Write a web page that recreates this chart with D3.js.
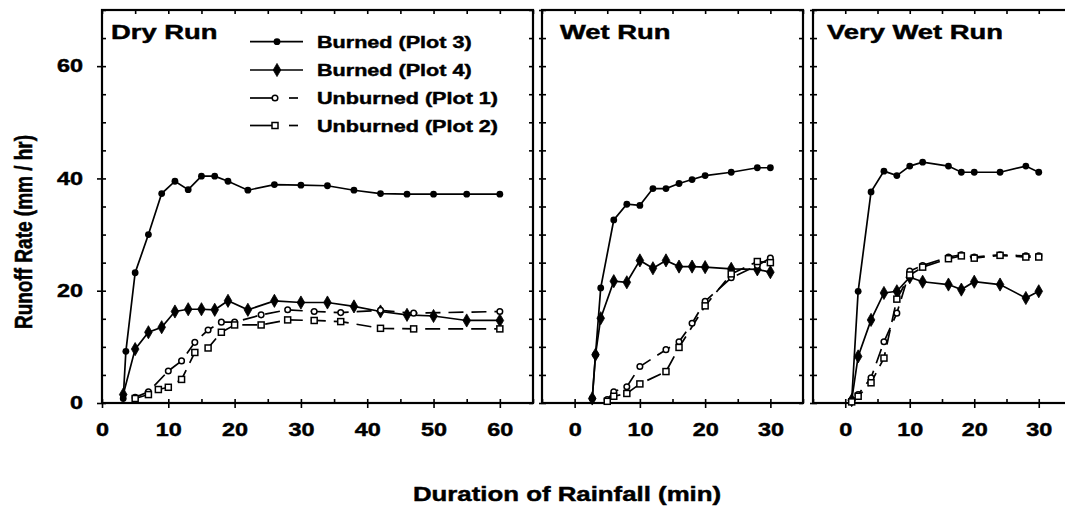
<!DOCTYPE html>
<html>
<head>
<meta charset="utf-8">
<script src="https://cdn.jsdelivr.net/npm/d3@7"></script>
<style>
  body { margin: 0; background: #fff; }
  text { font-family: "Liberation Sans", Arial, sans-serif; font-weight: bold; fill: #000; stroke: #000; stroke-width: 0.45px; }
</style>
</head>
<body>
<div id="chart"></div>
<script>
// data: [minutes, runoff mm/hr]
var dryBurned3 = [[3.2,0.8],[3.6,9.2],[5,23.2],[7,30.0],[9,37.3],[11,39.5],[13,38.0],[15,40.4],[17,40.4],[19,39.5],[22,37.9],[26,38.9],[30,38.8],[34,38.7],[38,37.9],[42,37.3],[46,37.2],[50,37.2],[55,37.2],[60,37.2]];
var dryBurned4 = [[3.2,1.5],[5,9.6],[7,12.6],[9,13.5],[11,16.3],[13,16.7],[15,16.7],[17,16.6],[19,18.2],[22,16.6],[26,18.2],[30,17.9],[34,17.9],[38,17.2],[42,16.3],[46,15.7],[50,15.5],[55,14.7],[60,14.7]];
var dryUnburned1 = [[5,1.0],[7,2.0],[10,5.7],[12,7.5],[14,10.8],[16,13.0],[18,14.4],[20,14.4],[24,15.7],[28,16.6],[32,16.3],[36,16.1],[42,16.5],[47,16.0],[60,16.3]];
var dryUnburned2 = [[5,0.8],[7,1.5],[8.5,2.4],[10,2.8],[12,4.2],[14,9.0],[16,9.8],[18,12.6],[20,13.9],[24,13.9],[28,14.8],[32,14.7],[36,14.5],[42,13.3],[47,13.2],[60,13.2]];

var wetBurned3 = [[2.7,0.8],[3.2,8.6],[4,20.5],[6,32.6],[8,35.4],[10,35.2],[12,38.2],[14,38.2],[16,39.1],[18,39.8],[20,40.5],[24,41.1],[28,41.9],[30,41.9]];
var wetBurned4 = [[2.7,0.8],[3.2,8.6],[4,15.1],[6,21.7],[8,21.5],[10,25.4],[12,24.0],[14,25.4],[16,24.3],[18,24.3],[20,24.2],[24,23.9],[28,23.8],[30,23.3]];
var wetUnburned1 = [[5,0.6],[6,2.0],[8,2.9],[10,6.5],[14,9.5],[16,10.9],[18,14.2],[20,18.1],[24,22.3],[28,24.5],[30,25.8]];
var wetUnburned2 = [[5,0.3],[6,1.2],[8,1.7],[10,3.4],[14,5.6],[16,9.9],[20,17.3],[24,23.0],[28,25.2],[30,25.0]];

var vwetBurned3 = [[1,0.5],[2,19.9],[4,37.6],[6,41.3],[8,40.5],[10,42.2],[12,42.9],[16,42.2],[18,41.1],[20,41.1],[24,41.1],[28,42.2],[30,41.1]];
var vwetBurned4 = [[1,0.5],[2,8.3],[4,14.8],[6,19.6],[8,19.9],[10,22.4],[12,21.6],[16,21.1],[18,20.2],[20,21.6],[24,21.1],[28,18.7],[30,19.9]];
var vwetUnburned1 = [[1,0.3],[2,1.5],[4,4.5],[6,10.9],[8,16.0],[10,23.5],[12,24.5],[16,26.0],[18,26.4],[20,26.0],[24,26.4],[28,26.2],[30,26.2]];
var vwetUnburned2 = [[1,0.2],[2,1.2],[4,3.6],[6,8.0],[8,18.5],[10,22.8],[12,24.2],[16,25.7],[18,26.2],[20,25.8],[24,26.3],[28,26.0],[30,26.0]];

var seriesNames = ['Burned (Plot 3)', 'Burned (Plot 4)', 'Unburned (Plot 1)', 'Unburned (Plot 2)'];
var panelTitles = ['Dry Run', 'Wet Run', 'Very Wet Run'];
var dryTicks = [0, 10, 20, 30, 40, 50, 60];
var wetTicks = [0, 10, 20, 30];
var yTicks = [0, 20, 40, 60];

var W = 1065, H = 508;
var yTop = 10, yBot = 403;
var SX = 1.3; // the scanned figure is stretched sideways

var svg = d3.select('#chart').append('svg')
    .attr('width', W)
    .attr('height', H);

var y = d3.scaleLinear().domain([0, 70]).range([yBot, yTop]);

var panels = [
    {title: panelTitles[0], left: 102, right: 533, dom: [0, 65], ticks: dryTicks, tx: 111,
     data: [dryBurned3, dryBurned4, dryUnburned1, dryUnburned2]},
    {title: panelTitles[1], left: 542, right: 803, dom: [-5, 35], ticks: wetTicks, tx: 560,
     data: [wetBurned3, wetBurned4, wetUnburned1, wetUnburned2]},
    {title: panelTitles[2], left: 813, right: 1071, dom: [-5, 35], ticks: wetTicks, tx: 827,
     data: [vwetBurned3, vwetBurned4, vwetUnburned1, vwetUnburned2]}
];

function stretch(sel, sx) {
    sel.each(function() {
        var t = d3.select(this);
        var x = +t.attr('x') || 0, yy = +t.attr('y') || 0;
        t.attr('x', 0).attr('y', 0)
         .attr('transform', 'translate(' + x + ',' + yy + ') scale(' + sx + ',1)');
    });
}

function styleAxis(g) {
    g.select('.domain').remove();
    g.selectAll('line').attr('stroke', '#000').attr('stroke-width', 1.6);
    g.attr('font-family', null).attr('font-size', 18);
}

// marker per series
function drawMarker(g, kind, px, py) {
    if (kind == 0) {
        g.append('circle').attr('cx', px).attr('cy', py).attr('r', 3.4).attr('fill', '#000');
    } else if (kind == 1) {
        g.append('path').attr('d', d3.symbol(d3.symbolDiamond, 50)())
            .attr('transform', 'translate(' + px + ',' + py + ')').attr('fill', '#000')
            .attr('stroke', '#000').attr('stroke-width', 0.8);
    } else if (kind == 2) {
        g.append('circle').attr('cx', px).attr('cy', py).attr('r', 2.8)
            .attr('fill', '#fff').attr('stroke', '#000').attr('stroke-width', 1.5);
    } else {
        g.append('rect').attr('x', px - 3).attr('y', py - 3).attr('width', 6).attr('height', 6)
            .attr('fill', '#fff').attr('stroke', '#000').attr('stroke-width', 1.5);
    }
}

var every5 = d3.range(0, 71, 5);

panels.forEach(function(p, pi) {
    var x = d3.scaleLinear().domain(p.dom).range([p.left, p.right]);
    var g = svg.append('g');
    var xMinor = d3.range(Math.ceil(p.dom[0] / 5) * 5, p.dom[1] + 0.1, 5);

    // bottom: outward ticks with labels, inward ticks every 5 min
    var xb = g.append('g').attr('transform', 'translate(0,' + yBot + ')')
        .call(d3.axisBottom(x).tickValues(p.ticks).tickSize(5).tickPadding(15).tickSizeOuter(0));
    styleAxis(xb);
    stretch(xb.selectAll('text').attr('dy', '0.71em'), SX);
    var xb2 = g.append('g').attr('transform', 'translate(0,' + yBot + ')')
        .call(d3.axisBottom(x).tickValues(xMinor).tickSize(-4).tickFormat('').tickSizeOuter(0));
    styleAxis(xb2);
    var xt = g.append('g').attr('transform', 'translate(0,' + yTop + ')')
        .call(d3.axisTop(x).tickValues(xMinor).tickSize(-4).tickFormat('').tickSizeOuter(0));
    styleAxis(xt);

    // left and right borders
    var yl = g.append('g').attr('transform', 'translate(' + p.left + ',0)')
        .call(d3.axisLeft(y).tickValues(every5).tickSize(-4).tickFormat('').tickSizeOuter(0));
    styleAxis(yl);
    var yr = g.append('g').attr('transform', 'translate(' + p.right + ',0)')
        .call(d3.axisRight(y).tickValues(every5).tickSize(-4).tickFormat('').tickSizeOuter(0));
    styleAxis(yr);
    if (pi == 0) {
        var ylab = g.append('g').attr('transform', 'translate(' + p.left + ',0)')
            .call(d3.axisLeft(y).tickValues(yTicks).tickSize(5).tickPadding(9.6).tickSizeOuter(0));
        styleAxis(ylab);
        ylab.selectAll('text').attr('transform', 'scale(' + SX + ',1)');
    } else {
        var yo = g.append('g').attr('transform', 'translate(' + p.left + ',0)')
            .call(d3.axisLeft(y).tickValues(every5).tickSize(3).tickFormat('').tickSizeOuter(0));
        styleAxis(yo);
    }

    g.append('rect')
        .attr('x', p.left).attr('y', yTop)
        .attr('width', p.right - p.left).attr('height', yBot - yTop)
        .attr('fill', 'none').attr('stroke', '#000').attr('stroke-width', 2.2);

    // series
    var line = d3.line().x(function(d) { return x(d[0]); }).y(function(d) { return y(d[1]); });
    p.data.forEach(function(s, si) {
        g.append('path')
            .datum(s)
            .attr('d', line)
            .attr('fill', 'none')
            .attr('stroke', '#000')
            .attr('stroke-width', 1.7)
            .attr('stroke-dasharray', si >= 2 ? '15,8' : null);
    });
    p.data.forEach(function(s, si) {
        s.forEach(function(d) { drawMarker(g, si, x(d[0]), y(d[1])); });
    });

    var t = g.append('text')
        .attr('x', p.tx).attr('y', 39)
        .attr('font-size', 20)
        .text(p.title);
    stretch(t, 1.37);
});

// legend in the dry panel
var leg = svg.append('g');
var legY = [41.7, 70, 98, 125.5];
seriesNames.forEach(function(name, i) {
    var ly = legY[i];
    if (i < 2) {
        leg.append('line').attr('x1', 250).attr('x2', 303).attr('y1', ly).attr('y2', ly)
            .attr('stroke', '#000').attr('stroke-width', 1.7);
        drawMarker(leg, i, 277, ly);
    } else {
        leg.append('line').attr('x1', 250).attr('x2', 275).attr('y1', ly).attr('y2', ly)
            .attr('stroke', '#000').attr('stroke-width', 1.7);
        leg.append('line').attr('x1', 289).attr('x2', 298).attr('y1', ly).attr('y2', ly)
            .attr('stroke', '#000').attr('stroke-width', 1.7);
        drawMarker(leg, i, 275, ly);
    }
    var t = leg.append('text').attr('x', 317).attr('y', ly + 6.3)
        .attr('font-size', 17).text(name);
    stretch(t, 1.27);
});

// axis titles
var xt = svg.append('text')
    .attr('x', 567).attr('y', 501)
    .attr('text-anchor', 'middle')
    .attr('font-size', 21)
    .text('Duration of Rainfall (min)');
stretch(xt, 1.23);

svg.append('text')
    .attr('transform', 'translate(32,232) rotate(-90) scale(1,1.25)')
    .attr('text-anchor', 'middle')
    .attr('font-size', 19)
    .text('Runoff Rate (mm / hr)');
</script>
</body>
</html>
